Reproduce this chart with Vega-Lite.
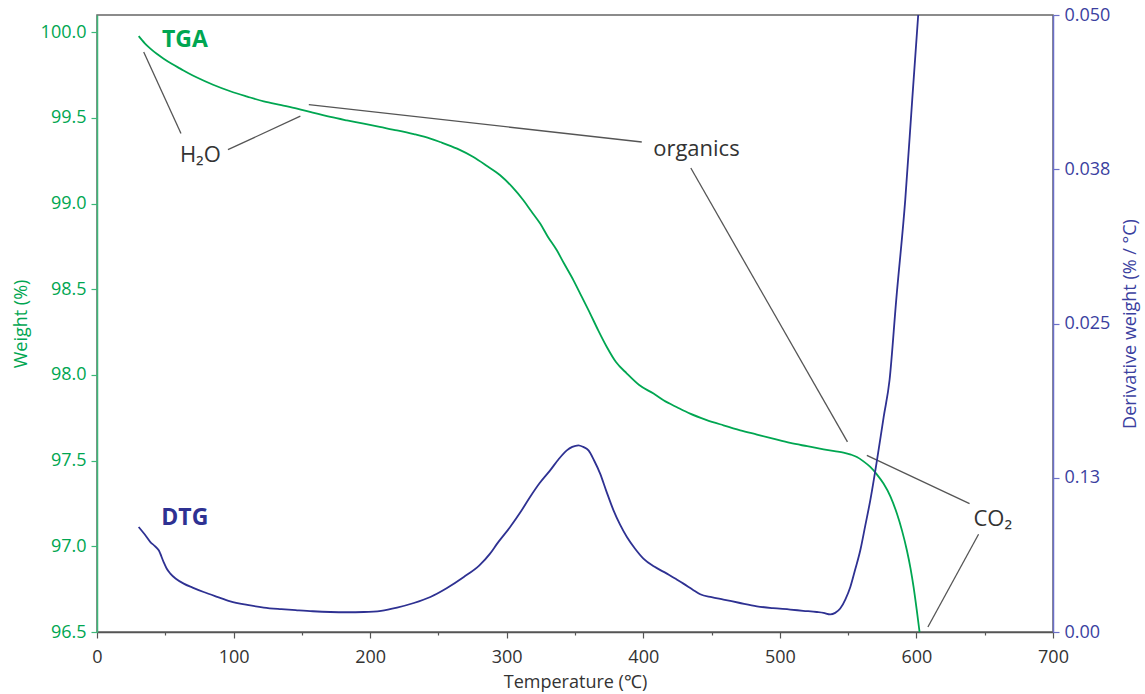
{
  "$schema": "https://vega.github.io/schema/vega-lite/v6.json",
  "width": 956,
  "height": 617,
  "autosize": "none",
  "padding": {"left": 97, "top": 15, "right": 92, "bottom": 62},
  "background": "white",
  "config": {
    "view": {"stroke": "#666666", "strokeWidth": 1.5},
    "font": "Open Sans"
  },
  "datasets": {
    "tga": [
      {"T": 30.5, "W": 99.977}, {"T": 35, "W": 99.935}, {"T": 39.1, "W": 99.904}, {"T": 44, "W": 99.872},
      {"T": 48.8, "W": 99.845}, {"T": 55, "W": 99.814}, {"T": 61, "W": 99.787}, {"T": 67, "W": 99.76},
      {"T": 73.2, "W": 99.735}, {"T": 85, "W": 99.693}, {"T": 97.6, "W": 99.655}, {"T": 110, "W": 99.624},
      {"T": 122.1, "W": 99.596}, {"T": 135, "W": 99.574}, {"T": 146.5, "W": 99.554}, {"T": 158, "W": 99.53},
      {"T": 170.9, "W": 99.505}, {"T": 183, "W": 99.485}, {"T": 195.3, "W": 99.466}, {"T": 207, "W": 99.447},
      {"T": 219.7, "W": 99.427}, {"T": 232, "W": 99.405}, {"T": 244.1, "W": 99.379}, {"T": 251.2, "W": 99.359},
      {"T": 263.7, "W": 99.32}, {"T": 275.6, "W": 99.271}, {"T": 285, "W": 99.222}, {"T": 295.2, "W": 99.165},
      {"T": 304, "W": 99.097}, {"T": 312.2, "W": 99.019}, {"T": 318, "W": 98.955}, {"T": 324.5, "W": 98.883},
      {"T": 330, "W": 98.808}, {"T": 336.7, "W": 98.727}, {"T": 342, "W": 98.65}, {"T": 348.9, "W": 98.552},
      {"T": 355, "W": 98.455}, {"T": 361.1, "W": 98.358}, {"T": 367, "W": 98.26}, {"T": 373.3, "W": 98.163},
      {"T": 380, "W": 98.075}, {"T": 388, "W": 98.008}, {"T": 397, "W": 97.941}, {"T": 407.5, "W": 97.891},
      {"T": 414.8, "W": 97.852}, {"T": 425, "W": 97.81}, {"T": 434.3, "W": 97.774}, {"T": 446, "W": 97.738},
      {"T": 458.7, "W": 97.706}, {"T": 471, "W": 97.677}, {"T": 483.2, "W": 97.652}, {"T": 495, "W": 97.628},
      {"T": 507.6, "W": 97.603}, {"T": 520, "W": 97.584}, {"T": 532, "W": 97.566}, {"T": 540, "W": 97.555},
      {"T": 546.6, "W": 97.547}, {"T": 552, "W": 97.535}, {"T": 556.4, "W": 97.521}, {"T": 561, "W": 97.497},
      {"T": 566.2, "W": 97.463}, {"T": 571, "W": 97.42}, {"T": 575.9, "W": 97.366}, {"T": 581, "W": 97.29},
      {"T": 585.7, "W": 97.191}, {"T": 589.5, "W": 97.09}, {"T": 593, "W": 96.977}, {"T": 595.7, "W": 96.87},
      {"T": 597.9, "W": 96.763}, {"T": 600.2, "W": 96.63}, {"T": 602.3, "W": 96.5}
    ],
    "dtg": [
      {"T": 30.5, "D": 0.00851}, {"T": 35, "D": 0.0079}, {"T": 39.1, "D": 0.00729}, {"T": 42, "D": 0.007},
      {"T": 45.2, "D": 0.00662}, {"T": 48.8, "D": 0.00567}, {"T": 51, "D": 0.00515}, {"T": 53.7, "D": 0.00473},
      {"T": 58, "D": 0.0043}, {"T": 63.5, "D": 0.00392}, {"T": 70, "D": 0.0036}, {"T": 78.1, "D": 0.00324},
      {"T": 88, "D": 0.00285}, {"T": 97.6, "D": 0.00249}, {"T": 110, "D": 0.0022}, {"T": 122.1, "D": 0.00198},
      {"T": 135, "D": 0.00185}, {"T": 146.5, "D": 0.00176}, {"T": 158, "D": 0.00168}, {"T": 170.9, "D": 0.00162},
      {"T": 183, "D": 0.0016}, {"T": 195.3, "D": 0.00162}, {"T": 208, "D": 0.00172}, {"T": 219.7, "D": 0.00198},
      {"T": 232, "D": 0.00235}, {"T": 244.1, "D": 0.00284}, {"T": 256, "D": 0.00355}, {"T": 268.6, "D": 0.00446},
      {"T": 280, "D": 0.0054}, {"T": 287.8, "D": 0.00635}, {"T": 293, "D": 0.00716}, {"T": 302.5, "D": 0.00851},
      {"T": 310, "D": 0.0097}, {"T": 317.1, "D": 0.01094}, {"T": 324, "D": 0.01205}, {"T": 331.8, "D": 0.0131},
      {"T": 338, "D": 0.014}, {"T": 344, "D": 0.01472}, {"T": 348, "D": 0.015}, {"T": 352.5, "D": 0.01513},
      {"T": 356, "D": 0.015}, {"T": 359.9, "D": 0.01472}, {"T": 364, "D": 0.0139}, {"T": 368.4, "D": 0.01284},
      {"T": 373, "D": 0.0114}, {"T": 378.2, "D": 0.00986}, {"T": 383, "D": 0.0087}, {"T": 388, "D": 0.0077},
      {"T": 394, "D": 0.00675}, {"T": 400.1, "D": 0.00595}, {"T": 408, "D": 0.0053}, {"T": 417.3, "D": 0.00473},
      {"T": 423, "D": 0.00435}, {"T": 429.4, "D": 0.00392}, {"T": 436, "D": 0.00345}, {"T": 441.7, "D": 0.00306},
      {"T": 450, "D": 0.00282}, {"T": 458.7, "D": 0.00263}, {"T": 470, "D": 0.00237}, {"T": 483.2, "D": 0.00208},
      {"T": 495, "D": 0.00193}, {"T": 507.6, "D": 0.00182}, {"T": 517, "D": 0.00172}, {"T": 527.1, "D": 0.00162},
      {"T": 532, "D": 0.00155}, {"T": 536.9, "D": 0.00143}, {"T": 540.5, "D": 0.00155}, {"T": 544.2, "D": 0.0019},
      {"T": 548, "D": 0.00265}, {"T": 551.6, "D": 0.00365}, {"T": 555, "D": 0.005}, {"T": 558.9, "D": 0.00662},
      {"T": 562.5, "D": 0.0086}, {"T": 566.2, "D": 0.01067}, {"T": 571.1, "D": 0.01391}, {"T": 576, "D": 0.01742},
      {"T": 580.3, "D": 0.0204}, {"T": 585.2, "D": 0.0269}, {"T": 591.8, "D": 0.035}, {"T": 596.9, "D": 0.0431},
      {"T": 601.3, "D": 0.05}
    ],
    "leaders": [
      {"T": 34.2, "W": 99.884, "T2": 61.5, "W2": 99.408},
      {"T": 95.9, "W": 99.314, "T2": 148.9, "W2": 99.51},
      {"T": 155.1, "W": 99.577, "T2": 398.9, "W2": 99.359},
      {"T": 434.8, "W": 99.207, "T2": 549.5, "W2": 97.609},
      {"T": 563.7, "W": 97.531, "T2": 638.9, "W2": 97.249},
      {"T": 645.5, "W": 97.07, "T2": 608.4, "W2": 96.529}
    ],
    "labels": [
      {"T": 75.7, "W": 99.242, "text": "H₂O"},
      {"T": 438.9, "W": 99.275, "text": "organics"},
      {"T": 655.9, "W": 97.117, "text": "CO₂"}
    ],
    "series": [
      {"T": 47.6, "W": 99.913, "text": "TGA", "s": "TGA"},
      {"T": 47.1, "W": 97.122, "text": "DTG", "s": "DTG"}
    ]
  },
  "resolve": {"scale": {"y": "independent"}},
  "layer": [
    {
      "layer": [
        {
          "data": {"name": "leaders"},
          "mark": {"type": "rule", "color": "#555555", "strokeWidth": 1.3},
          "encoding": {
            "x": {"field": "T", "type": "quantitative"},
            "y": {"field": "W", "type": "quantitative"},
            "x2": {"field": "T2"},
            "y2": {"field": "W2"}
          }
        },
        {
          "data": {"name": "tga"},
          "mark": {"type": "line", "color": "#00a651", "strokeWidth": 1.8, "interpolate": "monotone"},
          "encoding": {
            "x": {
              "field": "T", "type": "quantitative",
              "scale": {"domain": [0, 700], "nice": false, "zero": false},
              "axis": {
                "title": "Temperature (℃)",
                "values": [0, 25, 50, 75, 100, 125, 150, 175, 200, 225, 250, 275, 300, 325, 350, 375, 400, 425, 450, 475, 500, 525, 550, 575, 600, 625, 650, 675, 700],
                "labelExpr": "datum.value % 100 == 0 ? datum.label : ''",
                "tickSize": {"condition": {"test": "datum.value % 100 == 0", "value": 6}, "value": 3},
                "grid": false,
                "domainColor": "#555555",
                "domainWidth": 1.5,
                "tickColor": "#555555",
                "tickWidth": 1.2,
                "labelColor": "#333333",
                "labelFontSize": 18,
                "labelPadding": 10,
                "labelFlush": false,
                "labelOverlap": false,
                "titleColor": "#333333",
                "titleFontSize": 18,
                "titleFontWeight": "normal",
                "titlePadding": 7
              }
            },
            "y": {
              "field": "W", "type": "quantitative",
              "scale": {"domain": [96.5, 100.1], "nice": false, "zero": false},
              "axis": {
                "title": "Weight (%)",
                "orient": "left",
                "values": [96.5, 97, 97.5, 98, 98.5, 99, 99.5, 100],
                "format": ".1f",
                "grid": false,
                "domainColor": "#3cb878",
                "domainWidth": 1.5,
                "tickColor": "#3cb878",
                "tickWidth": 1.2,
                "tickSize": 6,
                "labelColor": "#00a651",
                "labelFontSize": 18,
                "labelPadding": 5,
                "labelFlush": false,
                "titleColor": "#00a651",
                "titleFontSize": 18,
                "titleFontWeight": "normal",
                "titlePadding": 10
              }
            }
          }
        },
        {
          "data": {"name": "labels"},
          "mark": {"type": "text", "align": "center", "baseline": "alphabetic", "fontSize": 22, "color": "#333333"},
          "encoding": {
            "x": {"field": "T", "type": "quantitative"},
            "y": {"field": "W", "type": "quantitative"},
            "text": {"field": "text"}
          }
        },
        {
          "data": {"name": "series"},
          "mark": {"type": "text", "align": "left", "baseline": "alphabetic", "fontSize": 23, "fontWeight": "bold"},
          "encoding": {
            "x": {"field": "T", "type": "quantitative"},
            "y": {"field": "W", "type": "quantitative"},
            "text": {"field": "text"},
            "color": {
              "field": "s", "type": "nominal",
              "scale": {"domain": ["TGA", "DTG"], "range": ["#00a651", "#2e3192"]},
              "legend": null
            }
          }
        }
      ]
    },
    {
      "data": {"name": "dtg"},
      "mark": {"type": "line", "color": "#2e3192", "strokeWidth": 1.8, "clip": true, "interpolate": "monotone"},
      "encoding": {
        "x": {"field": "T", "type": "quantitative"},
        "y": {
          "field": "D", "type": "quantitative",
          "scale": {"domain": [0, 0.05], "nice": false},
          "axis": {
            "title": "Derivative weight (% / °C)",
            "orient": "right",
            "values": [0, 0.0125, 0.025, 0.0375, 0.05],
            "labelExpr": "datum.value == 0 ? '0.00' : abs(datum.value - 0.0125) < 1e-6 ? '0.13' : abs(datum.value - 0.025) < 1e-6 ? '0.025' : abs(datum.value - 0.0375) < 1e-6 ? '0.038' : '0.050'",
            "grid": false,
            "domainColor": "#6b6fc9",
            "domainWidth": 1.5,
            "tickColor": "#6b6fc9",
            "tickWidth": 1.2,
            "tickSize": 6,
            "labelColor": "#3b3f9f",
            "labelFontSize": 18,
            "labelPadding": 5,
            "labelFlush": false,
            "titleColor": "#3b3f9f",
            "titleFontSize": 18,
            "titleFontWeight": "normal",
            "titleAngle": 270,
            "titlePadding": 30
          }
        }
      }
    }
  ]
}
